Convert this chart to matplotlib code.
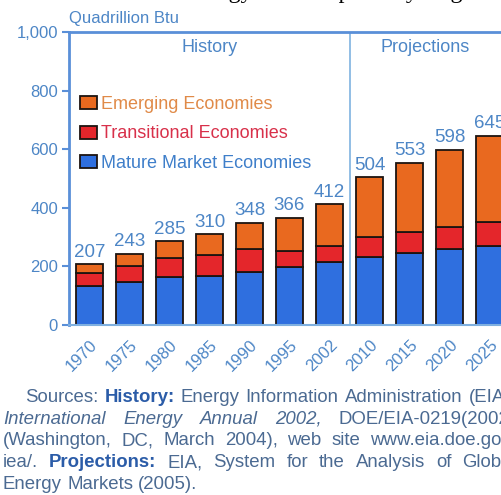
import matplotlib.pyplot as plt
import matplotlib.ticker as mticker
import numpy as np

plt.rcParams['font.family'] = ['Liberation Sans', 'DejaVu Sans']

years = ['1970', '1975', '1980', '1985', '1990', '1995', '2002',
         '2010', '2015', '2020', '2025']
totals = [207, 243, 285, 310, 348, 366, 412, 504, 553, 598, 645]
mature = [133, 148, 165, 166, 181, 197, 214, 233, 246, 258, 269]
transitional = [43, 52, 64, 72, 80, 54, 55, 67, 71, 76, 81]
emerging = [t - m - r for t, m, r in zip(totals, mature, transitional)]

series_names = ['Mature Market Economies', 'Transitional Economies', 'Emerging Economies']
yticks = [0, 200, 400, 600, 800, 1000]

BLUE = '#2f6fdf'
RED = '#e4262b'
ORANGE = '#e9691f'
TEXT_BLUE = '#4d86c6'
AXIS_BLUE = '#5a8fd8'

# source note, justified paragraph: (word, style) per line
source_lines = [
    [('Sources:', 'n'), ('History:', 'b'), ('Energy', 'n'), ('Information', 'n'),
     ('Administration', 'n'), ('(EIA),', 'n')],
    [('International', 'i'), ('Energy', 'i'), ('Annual', 'i'), ('2002,', 'i'),
     ('DOE/EIA-0219(2002)', 'n')],
    [('(Washington,', 'n'), ('DC,', 'n'), ('March', 'n'), ('2004),', 'n'),
     ('web', 'n'), ('site', 'n'), ('www.eia.doe.gov/', 'n')],
    [('iea/.', 'n'), ('Projections:', 'b'), ('EIA,', 'n'), ('System', 'n'),
     ('for', 'n'), ('the', 'n'), ('Analysis', 'n'), ('of', 'n'), ('Global', 'n')],
    [('Energy', 'n'), ('Markets', 'n'), ('(2005).', 'n')],
]
source_indent = [25, 3, 3, 3, 3]
source_baselines = [402, 424, 445, 467, 489]
para_right = 516

W, H = 501, 495
fig = plt.figure(figsize=(W / 100, H / 100), dpi=100)

# axes geometry in pixels
ax_left, ax_right, ax_top, ax_bottom = 69, 520, 32, 325
ax = fig.add_axes([ax_left / W, (H - ax_bottom) / H,
                   (ax_right - ax_left) / W, (ax_bottom - ax_top) / H])

x = np.arange(len(years))
step = 40.0
first_center = 89.5
width = 27 / step
edge = dict(edgecolor='#1c1410', linewidth=1.3)

b1 = ax.bar(x, mature, width, color=BLUE, **edge)
b2 = ax.bar(x, transitional, width, bottom=mature, color=RED, **edge)
b3 = ax.bar(x, emerging, width, bottom=np.add(mature, transitional), color=ORANGE, **edge)

for xi, t in zip(x, totals):
    ax.annotate(str(t), (xi, t), xytext=(0, 5.5), textcoords='offset points',
                ha='center', va='baseline', fontsize=13.5, color=TEXT_BLUE)

ax.set_xlim(-(first_center - ax_left) / step, (ax_right - first_center) / step)
ax.set_ylim(0, 1000)
ax.set_yticks(yticks)
ax.yaxis.set_major_formatter(mticker.FuncFormatter(lambda v, p: f'{int(v):,}'))
ax.set_xticks(x, years, rotation=45, ha='right', va='top', rotation_mode='anchor')

ax.axvline(6.5, color='#7fb3e0', lw=1.2)
ax.text(3, 947, 'History', ha='center', va='center', fontsize=13, color=TEXT_BLUE)
ax.text(8.39, 947, 'Projections', ha='center', va='center', fontsize=13, color=TEXT_BLUE)

for side in ['left', 'top']:
    ax.spines[side].set_color(AXIS_BLUE)
    ax.spines[side].set_linewidth(2)
ax.spines['bottom'].set_color('#7fb0e0')
ax.spines['bottom'].set_linewidth(1.5)
ax.spines['right'].set_visible(False)

ax.tick_params(axis='y', length=5, width=1.5, color=AXIS_BLUE,
               labelcolor=TEXT_BLUE, labelsize=12, pad=3)
ax.tick_params(axis='x', length=0, labelcolor=TEXT_BLUE, labelsize=12, pad=9)

ax.legend([b3, b2, b1], series_names[::-1], loc='upper left',
          bbox_to_anchor=((80 - ax_left) / (ax_right - ax_left), 0.781),
          frameon=False, fontsize=13, handlelength=0.95, handleheight=0.75,
          handletextpad=0.2, labelspacing=0.68, borderpad=0, borderaxespad=0,
          labelcolor=['#e08a48', '#d8304a', '#3f7fca'])

fig.text(ax_left / W, 1 - 18 / H, 'Quadrillion Btu', ha='left', va='center',
         fontsize=12, color=TEXT_BLUE)

# heading sits above the top edge, only its descenders show
fig.text(20 / W, 1 + 2.5 / H, 'World Marketed Energy Consumption by Region',
         ha='left', va='baseline', fontsize=17.3, family='Liberation Serif',
         color='black')

styles = {
    'n': dict(color='#4b6a92'),
    'b': dict(color='#2b5ca8', weight='bold'),
    'i': dict(color='#4b6a92', style='italic'),
}
renderer = fig.canvas.get_renderer()
last = len(source_lines) - 1
for i, (words, left, base) in enumerate(zip(source_lines, source_indent, source_baselines)):
    texts = [fig.text(0, 1 - base / H, w, ha='left', va='baseline',
                      fontsize=13.4, **styles[st]) for w, st in words]
    widths = [t.get_window_extent(renderer).width for t in texts]
    if i == last:
        space = texts[0].get_fontsize() * 100 / 72 * 0.278
    else:
        space = (para_right - left - sum(widths)) / (len(words) - 1)
    pos = left
    for t, w in zip(texts, widths):
        t.set_x(pos / W)
        pos += w + space

fig.savefig('out.png', dpi=100, facecolor='white')
